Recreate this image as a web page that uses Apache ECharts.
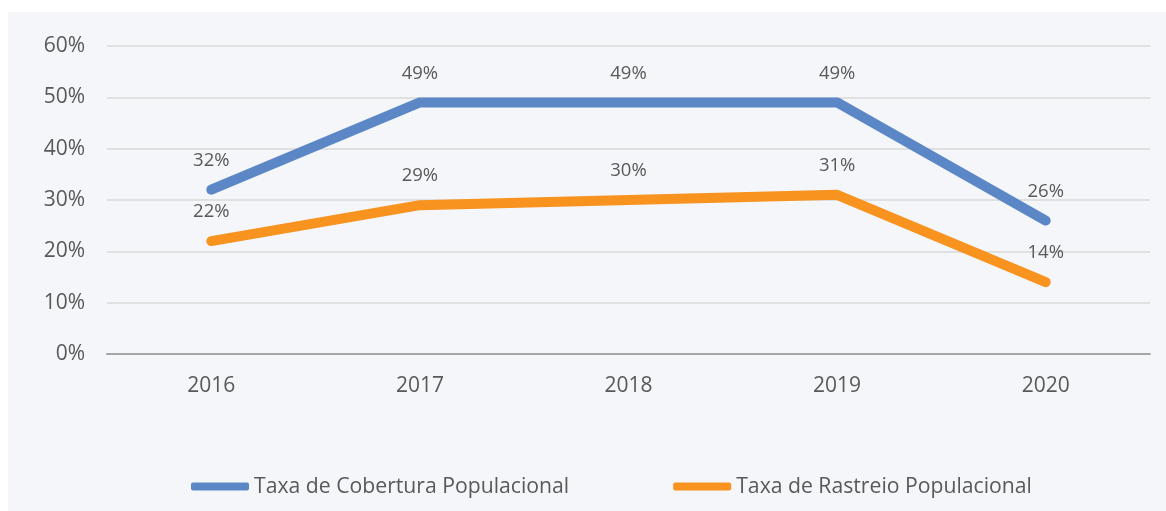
<!DOCTYPE html>
<html>
<head>
<meta charset="utf-8">
<script src="https://cdn.jsdelivr.net/npm/echarts@6/dist/echarts.min.js"></script>
<style>
  html, body { margin: 0; padding: 0; background: #ffffff; }
  #chart { position: absolute; left: 8px; top: 12px; width: 1158px; height: 499px; background: #f5f6fa; }
</style>
</head>
<body>
<div id="chart"></div>
<script>
  var years = ['2016', '2017', '2018', '2019', '2020'];
  var cobertura = [32, 49, 49, 49, 26];
  var rastreio = [22, 29, 30, 31, 14];
  var names = ['Taxa de Cobertura Populacional', 'Taxa de Rastreio Populacional'];

  var font = '"Open Sans", "Noto Sans", sans-serif';
  var textColor = '#595959';

  var myChart = echarts.init(document.getElementById('chart'));

  function makeSeries(name, data, color) {
    return {
      name: name,
      type: 'line',
      data: data,
      symbol: 'circle',
      symbolSize: 1,
      lineStyle: { color: color, width: 10, cap: 'round', join: 'round' },
      itemStyle: { color: color },
      label: {
        show: true,
        position: 'top',
        distance: 19,
        formatter: '{c}%',
        color: textColor,
        fontFamily: font,
        fontSize: 18.5
      },
      emphasis: { disabled: true }
    };
  }

  myChart.setOption({
    animation: false,
    textStyle: { fontFamily: font },
    grid: { left: 99, right: 16, top: 34, bottom: 157 },
    legend: {
      left: 178,
      top: 459,
      icon: 'roundRect',
      itemWidth: 58,
      itemHeight: 8,
      itemGap: 104,
      itemTextGap: 3,
      textStyle: { color: textColor, fontSize: 21.2, fontFamily: font },
      data: names
    },
    xAxis: {
      type: 'category',
      data: years,
      boundaryGap: true,
      axisLine: { lineStyle: { color: '#a6a6a6', width: 2 } },
      axisTick: { show: false },
      axisLabel: { color: textColor, fontSize: 21, fontFamily: font, margin: 22 }
    },
    yAxis: {
      type: 'value',
      min: 0,
      max: 60,
      interval: 10,
      axisLine: { show: false },
      axisTick: { show: false },
      splitLine: { lineStyle: { color: '#d9d9d9', width: 1.5 } },
      axisLabel: { color: textColor, fontSize: 21, fontFamily: font, margin: 22, formatter: '{value}%' }
    },
    series: [
      makeSeries(names[0], cobertura, '#5b87c7'),
      makeSeries(names[1], rastreio, '#f7931e')
    ]
  });
</script>
</body>
</html>
